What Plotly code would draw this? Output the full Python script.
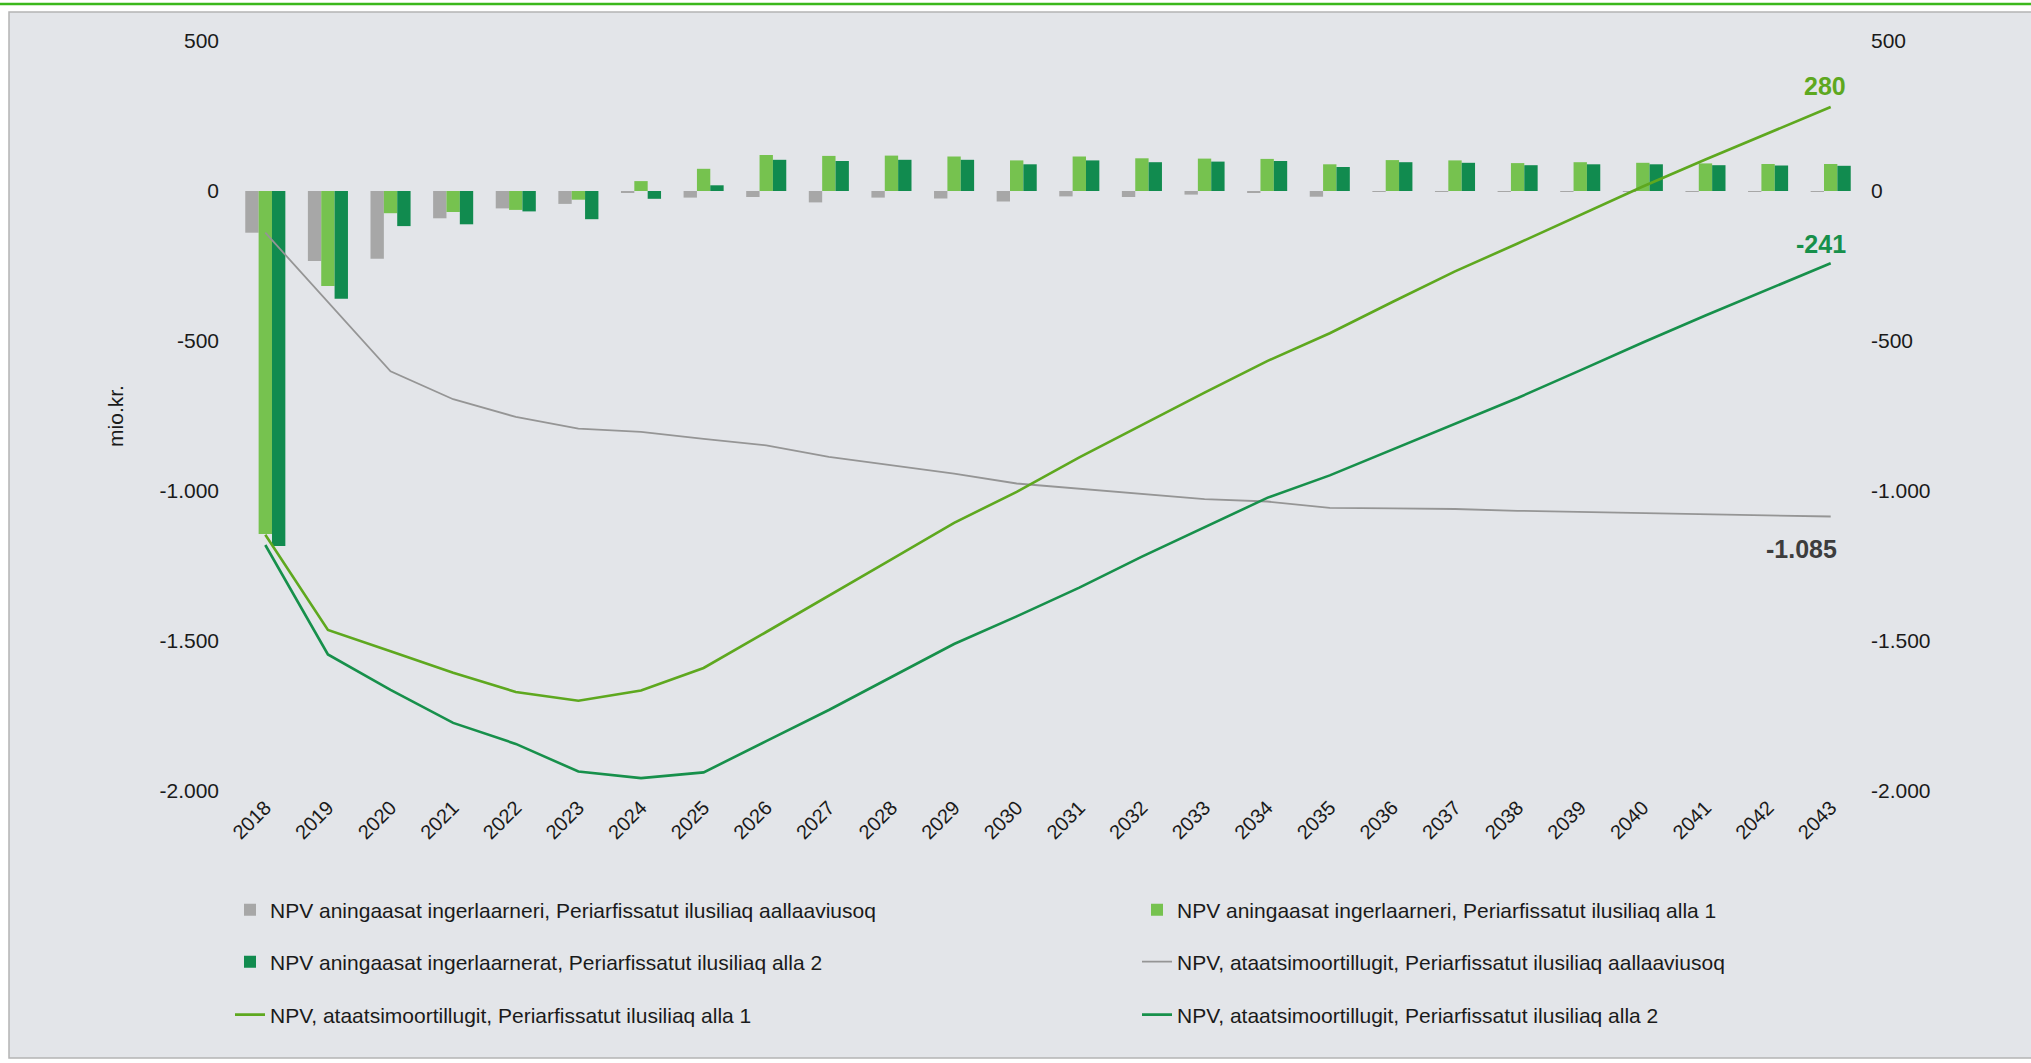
import plotly.graph_objects as go

years = [str(y) for y in range(2018, 2044)]

# Bars: NPV aningaasat ingerlaarneri (annual cash flows), mio. kr.
bar_base = [-139, -233, -226, -91, -58, -43, -6, -22, -20, -38, -22, -25, -35,
            -18, -20, -12, -5, -19, -1, -1, -3, -1, -1, -2, -2, -2]
bar_alt1 = [-1143, -317, -74, -70, -63, -29, 33, 74, 120, 117, 118, 115, 102,
            115, 109, 108, 107, 89, 103, 102, 93, 96, 94, 92, 90, 90]
bar_alt2 = [-1183, -359, -117, -111, -68, -94, -26, 19, 104, 100, 104, 104, 89,
            102, 96, 98, 100, 80, 96, 94, 86, 89, 89, 86, 85, 84]

# Lines: NPV ataatsimoortillugit (cumulative), mio. kr.
line_base = [-139, -370, -601, -694, -753, -792, -803, -826, -848, -886, -914,
             -942, -975, -993, -1010, -1027, -1035, -1056, -1058, -1060, -1066,
             -1070, -1074, -1078, -1082, -1085]
line_alt1 = [-1146, -1463, -1534, -1606, -1670, -1699, -1665, -1590, -1470,
             -1350, -1228, -1106, -1003, -888, -780, -672, -567, -474, -370,
             -268, -175, -80, 15, 105, 193, 280]
line_alt2 = [-1180, -1545, -1663, -1773, -1843, -1935, -1957, -1938, -1834,
             -1730, -1620, -1510, -1418, -1322, -1219, -1120, -1023, -948, -862,
             -774, -690, -598, -505, -415, -328, -241]

names = [
    "NPV aningaasat ingerlaarneri, Periarfissatut ilusiliaq aallaaviusoq",
    "NPV aningaasat ingerlaarneri, Periarfissatut ilusiliaq alla 1",
    "NPV aningaasat ingerlaarnerat, Periarfissatut ilusiliaq alla 2",
    "NPV, ataatsimoortillugit, Periarfissatut ilusiliaq aallaaviusoq",
    "NPV, ataatsimoortillugit, Periarfissatut ilusiliaq alla 1",
    "NPV, ataatsimoortillugit, Periarfissatut ilusiliaq alla 2",
]

y_tickvals = [-2000, -1500, -1000, -500, 0, 500]
y_ticktext = ["-2.000", "-1.500", "-1.000", "-500", "0", "500"]

C_GRAY_BAR = "#a7a7a7"
C_LIGHT_BAR = "#76c24f"
C_DARK_BAR = "#118b4f"
C_GRAY_LINE = "#959595"
C_LIGHT_LINE = "#5ea81f"
C_DARK_LINE = "#17904b"
FONT = "Liberation Sans, Arial, sans-serif"

fig = go.Figure()
fig.add_trace(go.Bar(x=years, y=bar_base, name=names[0], marker_color=C_GRAY_BAR,
                     marker_line_width=0, legend="legend"))
fig.add_trace(go.Bar(x=years, y=bar_alt1, name=names[1], marker_color=C_LIGHT_BAR,
                     marker_line_width=0, legend="legend2"))
fig.add_trace(go.Bar(x=years, y=bar_alt2, name=names[2], marker_color=C_DARK_BAR,
                     marker_line_width=0, legend="legend3"))
fig.add_trace(go.Scatter(x=years, y=line_base, name=names[3], mode="lines",
                         line=dict(color=C_GRAY_LINE, width=1.8), yaxis="y2",
                         legend="legend4"))
fig.add_trace(go.Scatter(x=years, y=line_alt1, name=names[4], mode="lines",
                         line=dict(color=C_LIGHT_LINE, width=2.6), yaxis="y2",
                         legend="legend5"))
fig.add_trace(go.Scatter(x=years, y=line_alt2, name=names[5], mode="lines",
                         line=dict(color=C_DARK_LINE, width=2.6), yaxis="y2",
                         legend="legend6"))


def fmt(v):
    return f"{v:,.0f}".replace(",", ".")


last = len(years) - 1
annotations = [
    dict(x=last, y=line_alt1[-1], xref="x", yref="y2", text=f"<b>{fmt(line_alt1[-1])}</b>",
         showarrow=False, yshift=21, xshift=-6, font=dict(family=FONT, size=25, color=C_LIGHT_LINE)),
    dict(x=last, y=line_alt2[-1], xref="x", yref="y2", text=f"<b>{fmt(line_alt2[-1])}</b>",
         showarrow=False, yshift=19, xshift=-10, font=dict(family=FONT, size=25, color=C_DARK_LINE)),
    dict(x=last, y=line_base[-1], xref="x", yref="y2", text=f"<b>{fmt(line_base[-1])}</b>",
         showarrow=False, yshift=-32, xshift=-29, font=dict(family=FONT, size=25, color="#3d3d3d")),
]

# page frame: white band with green rule on top, light grey panel
PL, PW, PT, PH = 234, 1628, 41, 750


def px(x):
    return (x - PL) / PW


def py(y):
    return (PT + PH - y) / PH


shapes = [
    dict(type="rect", xref="paper", yref="paper", x0=px(9), x1=px(2040), y0=py(1058), y1=py(12),
         fillcolor="#e3e5e9", line=dict(color="#b4b4b4", width=1.5), layer="below"),
    dict(type="line", xref="paper", yref="paper", x0=px(0), x1=px(2040), y0=py(4), y1=py(4),
         line=dict(color="#3cb81c", width=2.5)),
]


def leg(xpix, ypix):
    return dict(orientation="h", xanchor="left", yanchor="middle", x=px(xpix), y=py(ypix),
                bgcolor="rgba(0,0,0,0)", font=dict(family=FONT, size=21, color="#1a1a1a"))


fig.update_layout(
    width=2031, height=1063,
    margin=dict(l=PL, r=2031 - PL - PW, t=PT, b=1063 - PT - PH, autoexpand=False),
    paper_bgcolor="white", plot_bgcolor="rgba(0,0,0,0)",
    font=dict(family=FONT, size=21, color="#1a1a1a"),
    barmode="group", bargap=0.36, bargroupgap=0,
    xaxis=dict(type="category", tickangle=-45, tickfont=dict(size=20), showgrid=False,
               zeroline=False, showline=False, ticks="", range=[-0.5, 25.5]),
    yaxis=dict(range=[-2000, 500], tickvals=y_tickvals, ticktext=y_ticktext, showgrid=False,
               zeroline=False, showline=False, ticks="", ticklabelstandoff=14,
               title=dict(text="mio.kr.", font=dict(size=21), standoff=30)),
    yaxis2=dict(range=[-2000, 500], tickvals=y_tickvals, ticktext=y_ticktext, overlaying="y",
                side="right", showgrid=False, zeroline=False, showline=False, ticks="",
                ticklabelstandoff=8),
    legend=leg(230, 910),
    legend2=leg(1137, 910),
    legend3=leg(230, 962),
    legend4=leg(1137, 962),
    legend5=leg(230, 1015),
    legend6=leg(1137, 1015),
    annotations=annotations,
    shapes=shapes,
    showlegend=True,
)

fig.write_html("out.html", config={"displayModeBar": False},
               post_script="document.body.style.margin='0';document.body.style.overflow='hidden';")
